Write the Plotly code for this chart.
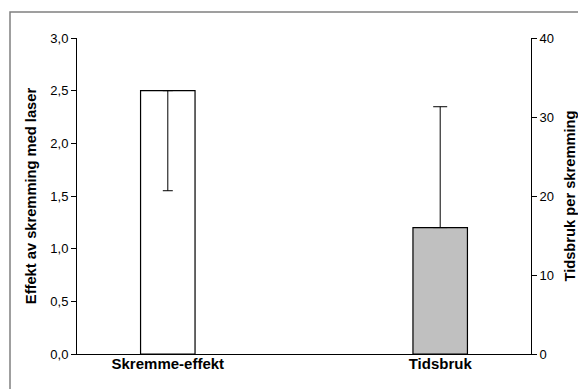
import plotly.graph_objects as go

categories = ["Skremme-effekt", "Tidsbruk"]
effect_value = [2.5]
effect_err_minus = [0.95]
time_value = [16.0]
time_err_plus = [15.3]
left_ticks = [0, 0.5, 1.0, 1.5, 2.0, 2.5, 3.0]
right_ticks = [0, 10, 20, 30, 40]

FONT = "Liberation Sans, Arial, sans-serif"

fig = go.Figure()
fig.add_trace(go.Bar(
    x=[categories[0]], y=effect_value, width=0.2,
    marker=dict(color="white", line=dict(color="black", width=1.2)),
    error_y=dict(type="data", symmetric=False, array=[0], arrayminus=effect_err_minus,
                 color="black", thickness=1, width=5),
    yaxis="y", showlegend=False,
))
fig.add_trace(go.Bar(
    x=[categories[1]], y=time_value, width=0.2,
    marker=dict(color="#C0C0C0", line=dict(color="black", width=1.2)),
    error_y=dict(type="data", symmetric=False, array=time_err_plus, arrayminus=[0],
                 color="black", thickness=1, width=7),
    yaxis="y2", showlegend=False,
))

fig.update_layout(
    width=578, height=381,
    margin=dict(l=69, r=55, t=30, b=35, autoexpand=False),
    paper_bgcolor="white", plot_bgcolor="white",
    separators=", ",
    font=dict(family=FONT, size=12, color="black"),
    xaxis=dict(
        type="category", categoryarray=categories, range=[-1/3, 4/3],
        showline=True, linecolor="black", linewidth=1, ticks="", showgrid=False,
        tickfont=dict(size=15, family=FONT), automargin=False, ticklabelstandoff=-4,
        ticktext=["<b>%s</b>" % c for c in categories], tickvals=categories,
        fixedrange=True,
    ),
    yaxis=dict(
        range=[0, 3.0], tickvals=left_ticks, tickformat=".1f", automargin=False,
        showline=True, linecolor="black", linewidth=1, ticks="outside", ticklen=5,
        tickcolor="black", showgrid=False, zeroline=False,
        tickfont=dict(size=13, family=FONT),
        title=dict(text="<b>Effekt av skremming med laser</b>", font=dict(size=14.7, family=FONT), standoff=10),
    ),
    yaxis2=dict(
        range=[0, 40], tickvals=right_ticks, overlaying="y", side="right", automargin=False,
        showline=True, linecolor="black", linewidth=1, ticks="outside", ticklen=5,
        tickcolor="black", showgrid=False, zeroline=False,
        tickfont=dict(size=13, family=FONT),
        title=dict(text="<b>Tidsbruk per skremming</b>", font=dict(size=14.7, family=FONT), standoff=11),
    ),
    shapes=[dict(type="rect", xref="paper", yref="paper",
                 x0=(10-77)/454, x1=(600-77)/454, y0=(354-400)/316, y1=(354-12)/316,
                 line=dict(color="#808080", width=1.5), fillcolor="rgba(0,0,0,0)", layer="below")],
)

fig.write_html("out.html")
